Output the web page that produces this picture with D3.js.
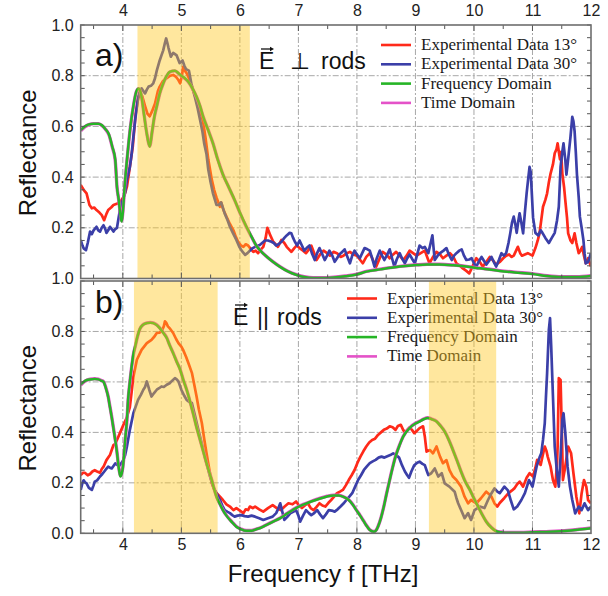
<!DOCTYPE html>
<html>
<head>
<meta charset="utf-8">
<script src="https://cdn.jsdelivr.net/npm/d3@7"></script>
<style>
  body { margin: 0; background: #fff; }
  text { font-family: Arial, "Liberation Sans", sans-serif; }
</style>
</head>
<body>
<svg id="chart" width="608" height="596"></svg>
<script>
// Frequency axis ticks (THz) and reflectance tick labels
const freqTicks = [4, 5, 6, 7, 8, 9, 10, 11, 12];
const reflTicksA = [0, 0.2, 0.4, 0.6, 0.8, 1.0];
const reflLabelsA = ['1.0', '0.2', '0.4', '0.6', '0.8', '1.0'];
const reflTicksB = [0, 0.2, 0.4, 0.6, 0.8];
const reflLabelsB = ['0.0', '0.2', '0.4', '0.6', '0.8'];

const legendLabels = ['Experimental Data 13°', 'Experimental Data 30°', 'Frequency Domain', 'Time Domain'];

// highlighted frequency bands [from, to]
const bandsA = [[4.25, 6.17]];
const bandsB = [[4.19, 5.62], [9.23, 10.38]];

// panel a) E perpendicular to rods : [frequency, reflectance]
const red13A = [[3.28,0.369],[3.33,0.35],[3.38,0.336],[3.43,0.29],[3.47,0.277],[3.51,0.28],[3.55,0.27],[3.6,0.26],[3.64,0.25],[3.68,0.23],[3.72,0.255],[3.75,0.27],[3.8,0.28],[3.84,0.29],[3.92,0.297],[3.98,0.31],[4.03,0.33],[4.07,0.362],[4.12,0.44],[4.17,0.52],[4.22,0.65],[4.26,0.71],[4.29,0.73],[4.33,0.72],[4.38,0.68],[4.42,0.65],[4.46,0.64],[4.5,0.66],[4.55,0.69],[4.6,0.74],[4.63,0.757],[4.69,0.78],[4.75,0.79],[4.81,0.8],[4.86,0.803],[4.91,0.795],[4.95,0.783],[4.98,0.77],[5.01,0.8],[5.03,0.835],[5.06,0.82],[5.09,0.81],[5.13,0.79],[5.18,0.757],[5.25,0.71],[5.32,0.665],[5.37,0.62],[5.41,0.56],[5.46,0.47],[5.52,0.39],[5.56,0.35],[5.6,0.32],[5.66,0.283],[5.68,0.3],[5.72,0.27],[5.77,0.244],[5.83,0.215],[5.89,0.19],[5.93,0.165],[5.97,0.145],[6.02,0.13],[6.06,0.125],[6.1,0.135],[6.14,0.13],[6.19,0.115],[6.23,0.105],[6.27,0.11],[6.31,0.1],[6.36,0.115],[6.4,0.125],[6.44,0.16],[6.47,0.2],[6.52,0.17],[6.57,0.145],[6.61,0.135],[6.65,0.125],[6.71,0.152],[6.76,0.14],[6.8,0.125],[6.84,0.115],[6.88,0.105],[6.93,0.12],[6.97,0.13],[7.02,0.12],[7.08,0.11],[7.13,0.1],[7.18,0.115],[7.22,0.13],[7.27,0.1],[7.31,0.073],[7.37,0.095],[7.43,0.11],[7.49,0.1],[7.54,0.09],[7.6,0.105],[7.66,0.1],[7.72,0.085],[7.77,0.09],[7.83,0.1],[7.88,0.105],[7.94,0.095],[8.0,0.09],[8.05,0.075],[8.1,0.06],[8.16,0.085],[8.22,0.1],[8.28,0.07],[8.33,0.047],[8.39,0.08],[8.44,0.105],[8.5,0.095],[8.56,0.08],[8.62,0.095],[8.67,0.105],[8.73,0.09],[8.79,0.073],[8.85,0.09],[8.9,0.11],[8.96,0.1],[9.02,0.09],[9.09,0.1],[9.16,0.11],[9.2,0.085],[9.24,0.06],[9.3,0.085],[9.36,0.105],[9.42,0.095],[9.47,0.08],[9.53,0.09],[9.59,0.1],[9.65,0.085],[9.7,0.06],[9.76,0.05],[9.81,0.04],[9.87,0.03],[9.92,0.02],[9.98,0.05],[10.04,0.08],[10.1,0.065],[10.15,0.047],[10.21,0.065],[10.27,0.085],[10.33,0.07],[10.38,0.055],[10.44,0.065],[10.5,0.08],[10.55,0.09],[10.6,0.095],[10.64,0.085],[10.68,0.09],[10.72,0.11],[10.75,0.125],[10.79,0.1],[10.82,0.09],[10.87,0.095],[10.92,0.1],[10.96,0.095],[11.0,0.09],[11.05,0.12],[11.09,0.15],[11.12,0.178],[11.15,0.23],[11.18,0.283],[11.22,0.31],[11.25,0.336],[11.28,0.38],[11.31,0.415],[11.35,0.45],[11.38,0.494],[11.41,0.51],[11.43,0.533],[11.45,0.5],[11.47,0.47],[11.49,0.5],[11.51,0.415],[11.54,0.36],[11.56,0.31],[11.59,0.24],[11.61,0.178],[11.65,0.15],[11.68,0.14],[11.72,0.178],[11.75,0.14],[11.79,0.1],[11.82,0.11],[11.85,0.125],[11.88,0.09],[11.91,0.06],[11.95,0.08],[12.0,0.047]];

const blue30A = [[3.28,0.152],[3.31,0.13],[3.33,0.119],[3.37,0.112],[3.4,0.14],[3.44,0.185],[3.47,0.175],[3.5,0.19],[3.55,0.204],[3.58,0.19],[3.61,0.185],[3.64,0.2],[3.67,0.21],[3.7,0.195],[3.72,0.18],[3.75,0.19],[3.78,0.204],[3.81,0.195],[3.84,0.185],[3.87,0.195],[3.9,0.2],[3.95,0.27],[4.0,0.31],[4.04,0.34],[4.07,0.39],[4.12,0.44],[4.15,0.49],[4.18,0.56],[4.21,0.625],[4.26,0.71],[4.29,0.74],[4.32,0.75],[4.35,0.74],[4.38,0.73],[4.41,0.745],[4.44,0.757],[4.48,0.76],[4.52,0.77],[4.55,0.79],[4.58,0.82],[4.63,0.86],[4.66,0.88],[4.69,0.9],[4.72,0.93],[4.74,0.947],[4.76,0.93],[4.78,0.91],[4.82,0.875],[4.86,0.89],[4.89,0.885],[4.92,0.88],[4.97,0.85],[5.02,0.86],[5.05,0.84],[5.08,0.826],[5.13,0.82],[5.17,0.77],[5.23,0.717],[5.28,0.67],[5.32,0.625],[5.36,0.58],[5.39,0.533],[5.43,0.49],[5.46,0.43],[5.5,0.38],[5.54,0.336],[5.6,0.29],[5.64,0.29],[5.68,0.3],[5.74,0.257],[5.79,0.23],[5.83,0.204],[5.88,0.18],[5.94,0.152],[5.99,0.125],[6.03,0.11],[6.09,0.093],[6.13,0.1],[6.17,0.11],[6.22,0.12],[6.26,0.125],[6.34,0.132],[6.38,0.14],[6.43,0.15],[6.48,0.15],[6.54,0.145],[6.58,0.14],[6.62,0.13],[6.66,0.135],[6.71,0.145],[6.76,0.16],[6.8,0.17],[6.85,0.18],[6.88,0.178],[6.91,0.16],[6.94,0.145],[6.98,0.13],[7.02,0.15],[7.06,0.13],[7.1,0.11],[7.14,0.12],[7.19,0.13],[7.23,0.1],[7.28,0.073],[7.32,0.1],[7.36,0.12],[7.41,0.095],[7.45,0.073],[7.49,0.09],[7.53,0.11],[7.58,0.09],[7.62,0.066],[7.66,0.08],[7.7,0.095],[7.75,0.105],[7.79,0.115],[7.83,0.09],[7.88,0.06],[7.92,0.09],[7.96,0.11],[8.0,0.095],[8.05,0.08],[8.09,0.1],[8.13,0.12],[8.18,0.115],[8.22,0.11],[8.26,0.08],[8.3,0.047],[8.34,0.08],[8.39,0.11],[8.43,0.09],[8.47,0.073],[8.52,0.095],[8.56,0.115],[8.6,0.08],[8.64,0.047],[8.68,0.075],[8.73,0.1],[8.77,0.08],[8.82,0.06],[8.86,0.08],[8.9,0.095],[8.95,0.075],[8.99,0.06],[9.03,0.095],[9.07,0.13],[9.12,0.12],[9.16,0.125],[9.22,0.1],[9.26,0.14],[9.29,0.17],[9.31,0.12],[9.33,0.073],[9.38,0.09],[9.42,0.1],[9.48,0.11],[9.53,0.12],[9.57,0.095],[9.62,0.073],[9.66,0.09],[9.7,0.1],[9.75,0.11],[9.79,0.115],[9.83,0.09],[9.87,0.073],[9.92,0.075],[9.96,0.08],[10.0,0.06],[10.04,0.047],[10.09,0.07],[10.13,0.085],[10.17,0.07],[10.21,0.055],[10.26,0.07],[10.3,0.085],[10.34,0.065],[10.38,0.047],[10.43,0.075],[10.47,0.1],[10.51,0.09],[10.55,0.1],[10.59,0.14],[10.62,0.178],[10.65,0.22],[10.68,0.244],[10.71,0.21],[10.73,0.18],[10.76,0.23],[10.78,0.257],[10.81,0.22],[10.84,0.178],[10.87,0.26],[10.9,0.336],[10.93,0.4],[10.95,0.44],[10.97,0.42],[10.99,0.33],[11.01,0.24],[11.05,0.18],[11.1,0.17],[11.14,0.19],[11.17,0.18],[11.22,0.16],[11.28,0.14],[11.33,0.16],[11.38,0.18],[11.42,0.23],[11.45,0.283],[11.48,0.44],[11.51,0.5],[11.53,0.533],[11.56,0.47],[11.58,0.41],[11.6,0.45],[11.62,0.494],[11.65,0.56],[11.68,0.638],[11.7,0.62],[11.72,0.58],[11.74,0.5],[11.76,0.41],[11.79,0.32],[11.81,0.244],[11.84,0.2],[11.87,0.152],[11.89,0.1],[11.91,0.06],[11.95,0.065],[12.0,0.1]];

const freqDomA = [[3.28,0.585],[3.35,0.6],[3.42,0.608],[3.5,0.61],[3.58,0.61],[3.64,0.605],[3.7,0.59],[3.76,0.57],[3.82,0.52],[3.87,0.47],[3.9,0.36],[3.93,0.31],[3.96,0.25],[3.98,0.225],[4.0,0.26],[4.03,0.36],[4.08,0.49],[4.13,0.6],[4.18,0.68],[4.23,0.737],[4.27,0.75],[4.31,0.73],[4.36,0.65],[4.41,0.57],[4.46,0.52],[4.5,0.58],[4.54,0.64],[4.58,0.68],[4.63,0.73],[4.69,0.77],[4.75,0.8],[4.8,0.815],[4.89,0.82],[4.95,0.81],[5.0,0.8],[5.06,0.79],[5.12,0.776],[5.19,0.75],[5.26,0.717],[5.32,0.68],[5.37,0.64],[5.45,0.59],[5.54,0.533],[5.62,0.47],[5.71,0.41],[5.81,0.36],[5.91,0.31],[6.01,0.255],[6.11,0.205],[6.2,0.165],[6.28,0.13],[6.37,0.105],[6.46,0.086],[6.57,0.065],[6.68,0.047],[6.82,0.028],[6.97,0.014],[7.1,0.006],[7.25,0.002],[7.4,0.002],[7.6,0.004],[7.8,0.009],[8.0,0.016],[8.16,0.027],[8.4,0.036],[8.73,0.047],[9.02,0.053],[9.2,0.055],[9.41,0.055],[9.65,0.052],[9.87,0.047],[10.1,0.04],[10.44,0.03],[10.7,0.024],[11.0,0.018],[11.25,0.01],[11.5,0.006],[11.75,0.006],[12.0,0.01]];

const timeDomA = [[3.28,0.583],[3.35,0.598],[3.42,0.607],[3.5,0.611],[3.58,0.611],[3.64,0.604],[3.7,0.59],[3.76,0.568],[3.82,0.518],[3.87,0.466],[3.9,0.362],[3.93,0.31],[3.96,0.252],[3.98,0.228],[4.0,0.262],[4.03,0.358],[4.08,0.488],[4.13,0.598],[4.18,0.679],[4.23,0.736],[4.27,0.749],[4.31,0.729],[4.36,0.652],[4.41,0.572],[4.46,0.522],[4.5,0.578],[4.54,0.638],[4.58,0.679],[4.63,0.729],[4.69,0.769],[4.75,0.799],[4.8,0.814],[4.89,0.819],[4.95,0.809],[5.0,0.799],[5.06,0.789],[5.12,0.775],[5.19,0.749],[5.26,0.716],[5.32,0.679],[5.37,0.641],[5.45,0.591],[5.54,0.534],[5.62,0.471],[5.71,0.411],[5.81,0.36],[5.91,0.309],[6.01,0.254],[6.11,0.204],[6.2,0.164],[6.28,0.13],[6.37,0.105],[6.46,0.086],[6.57,0.066],[6.68,0.048],[6.82,0.029],[6.97,0.015],[7.1,0.007],[7.25,0.003],[7.4,0.003],[7.6,0.005],[7.8,0.01],[8.0,0.017],[8.16,0.028],[8.4,0.037],[8.73,0.048],[9.02,0.054],[9.2,0.056],[9.41,0.056],[9.65,0.053],[9.87,0.048],[10.1,0.041],[10.44,0.031],[10.7,0.025],[11.0,0.019],[11.25,0.011],[11.5,0.007],[11.75,0.007],[12.0,0.011]];

// panel b) E parallel to rods
const red13B = [[3.28,0.231],[3.32,0.24],[3.35,0.24],[3.4,0.23],[3.44,0.235],[3.48,0.245],[3.52,0.25],[3.56,0.245],[3.61,0.24],[3.64,0.255],[3.67,0.264],[3.72,0.29],[3.78,0.31],[3.81,0.33],[3.84,0.35],[3.87,0.355],[3.9,0.37],[3.95,0.397],[4.01,0.43],[4.07,0.46],[4.12,0.5],[4.15,0.56],[4.18,0.62],[4.24,0.688],[4.32,0.727],[4.41,0.754],[4.49,0.767],[4.54,0.78],[4.58,0.794],[4.62,0.795],[4.66,0.8],[4.7,0.82],[4.72,0.84],[4.74,0.835],[4.77,0.82],[4.81,0.81],[4.86,0.794],[4.91,0.77],[4.95,0.754],[5.0,0.74],[5.03,0.727],[5.08,0.7],[5.12,0.675],[5.18,0.636],[5.22,0.59],[5.26,0.542],[5.3,0.49],[5.35,0.437],[5.39,0.375],[5.43,0.317],[5.48,0.25],[5.52,0.198],[5.56,0.175],[5.6,0.16],[5.66,0.145],[5.71,0.132],[5.77,0.115],[5.83,0.106],[5.89,0.092],[5.94,0.1],[6.0,0.09],[6.06,0.08],[6.1,0.095],[6.14,0.092],[6.17,0.106],[6.22,0.1],[6.26,0.106],[6.33,0.095],[6.4,0.086],[6.48,0.1],[6.56,0.112],[6.63,0.1],[6.7,0.092],[6.76,0.105],[6.83,0.119],[6.9,0.115],[6.96,0.126],[7.01,0.11],[7.06,0.1],[7.11,0.11],[7.16,0.119],[7.21,0.1],[7.26,0.092],[7.31,0.105],[7.36,0.119],[7.41,0.11],[7.46,0.106],[7.51,0.12],[7.56,0.132],[7.61,0.145],[7.66,0.159],[7.71,0.165],[7.76,0.172],[7.81,0.19],[7.86,0.211],[7.91,0.23],[7.96,0.251],[8.01,0.28],[8.06,0.304],[8.11,0.325],[8.16,0.344],[8.21,0.36],[8.26,0.37],[8.31,0.375],[8.36,0.39],[8.41,0.4],[8.46,0.41],[8.51,0.415],[8.56,0.424],[8.61,0.42],[8.66,0.41],[8.7,0.425],[8.75,0.43],[8.79,0.41],[8.82,0.4],[8.86,0.41],[8.9,0.42],[8.94,0.41],[8.98,0.397],[9.02,0.405],[9.07,0.417],[9.13,0.424],[9.16,0.384],[9.19,0.324],[9.25,0.33],[9.3,0.317],[9.36,0.344],[9.42,0.304],[9.47,0.278],[9.53,0.29],[9.58,0.251],[9.64,0.225],[9.7,0.211],[9.78,0.185],[9.84,0.145],[9.9,0.119],[9.95,0.132],[10.0,0.125],[10.04,0.119],[10.12,0.139],[10.21,0.165],[10.26,0.155],[10.3,0.145],[10.35,0.119],[10.4,0.106],[10.44,0.12],[10.52,0.14],[10.59,0.159],[10.65,0.17],[10.69,0.178],[10.74,0.195],[10.78,0.205],[10.84,0.185],[10.9,0.22],[10.95,0.238],[11.01,0.225],[11.05,0.26],[11.08,0.291],[11.14,0.271],[11.17,0.304],[11.21,0.344],[11.24,0.325],[11.26,0.304],[11.31,0.264],[11.35,0.211],[11.39,0.185],[11.42,0.28],[11.43,0.344],[11.45,0.615],[11.48,0.608],[11.5,0.423],[11.52,0.211],[11.56,0.264],[11.61,0.344],[11.66,0.317],[11.7,0.238],[11.75,0.145],[11.8,0.079],[11.84,0.159],[11.88,0.211],[11.92,0.185],[11.95,0.132],[12.0,0.119]];

const blue30B = [[3.28,0.172],[3.31,0.2],[3.33,0.21],[3.36,0.2],[3.38,0.198],[3.42,0.18],[3.47,0.172],[3.5,0.19],[3.52,0.205],[3.56,0.21],[3.61,0.225],[3.65,0.235],[3.7,0.25],[3.75,0.264],[3.78,0.26],[3.81,0.257],[3.87,0.277],[3.91,0.27],[3.95,0.27],[4.01,0.291],[4.04,0.31],[4.07,0.344],[4.12,0.41],[4.18,0.476],[4.26,0.529],[4.31,0.55],[4.35,0.569],[4.38,0.58],[4.41,0.602],[4.45,0.57],[4.49,0.542],[4.53,0.555],[4.58,0.569],[4.62,0.575],[4.66,0.582],[4.7,0.58],[4.75,0.589],[4.8,0.595],[4.83,0.602],[4.89,0.615],[4.92,0.61],[4.95,0.602],[5.0,0.569],[5.05,0.545],[5.09,0.529],[5.14,0.52],[5.18,0.516],[5.23,0.47],[5.28,0.42],[5.32,0.383],[5.36,0.345],[5.4,0.304],[5.45,0.26],[5.49,0.225],[5.53,0.195],[5.57,0.172],[5.62,0.15],[5.66,0.132],[5.7,0.11],[5.74,0.092],[5.79,0.085],[5.83,0.08],[5.87,0.072],[5.91,0.066],[5.96,0.07],[6.03,0.072],[6.08,0.068],[6.14,0.066],[6.2,0.07],[6.26,0.066],[6.33,0.06],[6.4,0.053],[6.48,0.06],[6.56,0.066],[6.62,0.08],[6.66,0.1],[6.69,0.119],[6.72,0.09],[6.76,0.053],[6.81,0.065],[6.86,0.079],[6.91,0.085],[6.96,0.092],[7.0,0.07],[7.03,0.046],[7.08,0.07],[7.13,0.092],[7.18,0.08],[7.22,0.072],[7.27,0.08],[7.32,0.092],[7.37,0.075],[7.42,0.06],[7.47,0.075],[7.52,0.092],[7.57,0.09],[7.62,0.086],[7.67,0.095],[7.72,0.106],[7.77,0.118],[7.82,0.132],[7.87,0.145],[7.92,0.159],[7.97,0.185],[8.02,0.211],[8.07,0.23],[8.12,0.251],[8.17,0.265],[8.22,0.278],[8.27,0.285],[8.32,0.291],[8.37,0.3],[8.42,0.304],[8.47,0.3],[8.51,0.304],[8.57,0.31],[8.62,0.317],[8.67,0.31],[8.72,0.3],[8.77,0.27],[8.82,0.245],[8.86,0.23],[8.89,0.22],[8.93,0.245],[8.98,0.27],[9.03,0.28],[9.07,0.284],[9.12,0.275],[9.16,0.27],[9.19,0.25],[9.22,0.231],[9.27,0.238],[9.33,0.257],[9.39,0.225],[9.45,0.238],[9.5,0.198],[9.58,0.185],[9.67,0.165],[9.7,0.14],[9.73,0.119],[9.78,0.092],[9.84,0.06],[9.9,0.08],[9.95,0.053],[10.01,0.092],[10.1,0.106],[10.18,0.1],[10.24,0.132],[10.3,0.159],[10.35,0.178],[10.4,0.165],[10.44,0.159],[10.52,0.185],[10.58,0.17],[10.63,0.13],[10.68,0.095],[10.74,0.106],[10.81,0.132],[10.87,0.159],[10.94,0.211],[11.0,0.185],[11.07,0.264],[11.12,0.3],[11.15,0.317],[11.18,0.37],[11.21,0.437],[11.23,0.54],[11.25,0.635],[11.28,0.807],[11.3,0.853],[11.32,0.74],[11.35,0.542],[11.38,0.344],[11.42,0.238],[11.45,0.185],[11.48,0.304],[11.51,0.45],[11.53,0.476],[11.56,0.4],[11.6,0.264],[11.64,0.185],[11.68,0.132],[11.73,0.079],[11.79,0.106],[11.84,0.092],[11.89,0.119],[11.95,0.092],[12.0,0.106]];

const freqDomB = [[3.28,0.59],[3.36,0.605],[3.44,0.61],[3.52,0.612],[3.58,0.61],[3.63,0.605],[3.67,0.6],[3.71,0.575],[3.75,0.54],[3.78,0.5],[3.81,0.46],[3.84,0.415],[3.87,0.37],[3.9,0.32],[3.92,0.278],[3.94,0.245],[3.96,0.225],[3.98,0.235],[4.0,0.26],[4.02,0.31],[4.04,0.37],[4.07,0.45],[4.09,0.53],[4.12,0.6],[4.15,0.66],[4.18,0.71],[4.21,0.74],[4.25,0.78],[4.29,0.81],[4.35,0.827],[4.41,0.833],[4.47,0.835],[4.52,0.833],[4.58,0.825],[4.63,0.813],[4.69,0.795],[4.75,0.774],[4.8,0.745],[4.86,0.714],[4.92,0.68],[4.98,0.648],[5.03,0.61],[5.09,0.569],[5.15,0.52],[5.2,0.476],[5.26,0.42],[5.32,0.37],[5.38,0.32],[5.43,0.278],[5.48,0.24],[5.52,0.21],[5.56,0.175],[5.6,0.145],[5.66,0.115],[5.71,0.092],[5.77,0.07],[5.83,0.053],[5.89,0.038],[5.94,0.026],[6.02,0.016],[6.11,0.01],[6.2,0.01],[6.28,0.016],[6.36,0.022],[6.43,0.03],[6.56,0.045],[6.69,0.06],[6.82,0.08],[6.96,0.1],[7.1,0.115],[7.22,0.126],[7.36,0.137],[7.49,0.146],[7.6,0.15],[7.69,0.15],[7.78,0.143],[7.86,0.132],[7.93,0.113],[7.99,0.092],[8.06,0.068],[8.12,0.046],[8.17,0.028],[8.22,0.013],[8.29,0.006],[8.33,0.012],[8.36,0.026],[8.41,0.06],[8.46,0.106],[8.51,0.16],[8.56,0.211],[8.61,0.26],[8.66,0.304],[8.73,0.35],[8.79,0.383],[8.9,0.417],[9.0,0.435],[9.07,0.443],[9.14,0.452],[9.21,0.457],[9.28,0.452],[9.36,0.443],[9.43,0.425],[9.5,0.403],[9.57,0.37],[9.64,0.33],[9.71,0.288],[9.78,0.244],[9.85,0.205],[9.93,0.172],[10.0,0.138],[10.07,0.106],[10.14,0.074],[10.21,0.046],[10.3,0.022],[10.38,0.008],[10.47,0.004],[10.55,0.002],[10.8,0.002],[11.0,0.004],[11.3,0.006],[11.6,0.01],[11.8,0.015],[12.0,0.02]];

const timeDomB = [[3.28,0.588],[3.36,0.604],[3.44,0.611],[3.52,0.613],[3.58,0.611],[3.63,0.606],[3.67,0.601],[3.71,0.577],[3.75,0.542],[3.78,0.502],[3.81,0.462],[3.84,0.417],[3.87,0.372],[3.9,0.322],[3.92,0.28],[3.94,0.247],[3.96,0.228],[3.98,0.238],[4.0,0.262],[4.02,0.308],[4.04,0.368],[4.07,0.448],[4.09,0.527],[4.12,0.598],[4.15,0.658],[4.18,0.708],[4.21,0.739],[4.25,0.779],[4.29,0.809],[4.35,0.828],[4.41,0.834],[4.47,0.836],[4.52,0.834],[4.58,0.826],[4.63,0.814],[4.69,0.796],[4.75,0.775],[4.8,0.746],[4.86,0.715],[4.92,0.681],[4.98,0.649],[5.03,0.611],[5.09,0.57],[5.15,0.521],[5.2,0.477],[5.26,0.421],[5.32,0.371],[5.38,0.321],[5.43,0.279],[5.48,0.241],[5.52,0.211],[5.56,0.176],[5.6,0.146],[5.66,0.116],[5.71,0.093],[5.77,0.071],[5.83,0.054],[5.89,0.039],[5.94,0.027],[6.02,0.017],[6.11,0.011],[6.2,0.011],[6.28,0.017],[6.36,0.023],[6.43,0.031],[6.56,0.046],[6.69,0.061],[6.82,0.081],[6.96,0.101],[7.1,0.116],[7.22,0.127],[7.36,0.138],[7.49,0.147],[7.6,0.151],[7.69,0.151],[7.78,0.144],[7.86,0.133],[7.93,0.114],[7.99,0.093],[8.06,0.069],[8.12,0.047],[8.17,0.029],[8.22,0.014],[8.29,0.007],[8.33,0.013],[8.36,0.027],[8.41,0.061],[8.46,0.107],[8.51,0.161],[8.56,0.212],[8.61,0.261],[8.66,0.305],[8.73,0.351],[8.79,0.384],[8.9,0.418],[9.0,0.436],[9.07,0.444],[9.14,0.453],[9.21,0.458],[9.28,0.453],[9.36,0.444],[9.43,0.426],[9.5,0.404],[9.57,0.371],[9.64,0.331],[9.71,0.289],[9.78,0.245],[9.85,0.206],[9.93,0.173],[10.0,0.139],[10.07,0.107],[10.14,0.075],[10.21,0.047],[10.3,0.023],[10.38,0.009],[10.47,0.005],[10.55,0.003],[10.8,0.003],[11.0,0.005],[11.3,0.007],[11.6,0.011],[11.8,0.016],[12.0,0.021]];

const svg = d3.select('#chart');

const x = d3.scaleLinear().domain([3.28, 12]).range([80.7, 591]);
const left = x.range()[0], right = x.range()[1];

const panels = [
    {
        id: 'a',
        y: d3.scaleLinear().domain([0, 1]).range([278.5, 25]),
        ticks: reflTicksA, labels: reflLabelsA,
        bands: bandsA,
        series: [red13A, blue30A, timeDomA, freqDomA],
        tag: 'a)', tagY: 66,
        field: { x: 259, y: 69, sym: '⊥', symX: 290, rodsX: 321 },
        legend: { x: 381, y: 45, textX: 421 }
    },
    {
        id: 'b',
        y: d3.scaleLinear().domain([0, 1]).range([533.3, 281]),
        ticks: reflTicksB, labels: reflLabelsB,
        bands: bandsB,
        series: [red13B, blue30B, timeDomB, freqDomB],
        tag: 'b)', tagY: 313,
        field: { x: 233, y: 325, sym: '||', symX: 257, rodsX: 277 },
        legend: { x: 347, y: 298.5, textX: 387 }
    }
];

// red, blue, time domain (under), frequency domain (on top)
const styles = [
    { color: '#ff2a1a', width: 2.7, curve: d3.curveLinear },
    { color: '#3b3fa8', width: 2.7, curve: d3.curveLinear },
    { color: '#e452c8', width: 3.4, curve: d3.curveMonotoneX },
    { color: '#26b526', width: 2.5, curve: d3.curveMonotoneX }
];
const legendOrder = [0, 1, 3, 2];

panels.forEach(p => {
    const y = p.y;
    const top = y.range()[1], bottom = y.range()[0];
    const g = svg.append('g');

    g.append('clipPath').attr('id', 'clip-' + p.id)
        .append('rect')
        .attr('x', left).attr('y', top)
        .attr('width', right - left).attr('height', bottom - top);

    // dash-dot grid
    const grid = g.append('g')
        .attr('stroke', '#a8a8a8')
        .attr('stroke-width', 1)
        .attr('stroke-dasharray', '6,2,2,2');
    grid.selectAll('.vx').data(freqTicks.filter(d => d < 12)).enter()
        .append('line')
        .attr('x1', d => x(d)).attr('x2', d => x(d))
        .attr('y1', top).attr('y2', bottom);
    grid.selectAll('.hy').data(p.ticks.filter(d => d > 0 && d < 1)).enter()
        .append('line')
        .attr('x1', left).attr('x2', right)
        .attr('y1', d => y(d)).attr('y2', d => y(d));

    // curves
    const plot = g.append('g').attr('clip-path', `url(#clip-${p.id})`);
    p.series.forEach((data, i) => {
        const st = styles[i];
        const line = d3.line()
            .x(d => x(d[0]))
            .y(d => y(d[1]))
            .curve(st.curve);
        plot.append('path')
            .datum(data)
            .attr('d', line)
            .attr('fill', 'none')
            .attr('stroke', st.color)
            .attr('stroke-width', st.width)
            .attr('stroke-linejoin', 'round');
    });

    // legend
    const lg = g.append('g');
    legendOrder.forEach((si, k) => {
        const ly = p.legend.y + k * 19.3;
        lg.append('line')
            .attr('x1', p.legend.x).attr('x2', p.legend.x + 30)
            .attr('y1', ly).attr('y2', ly)
            .attr('stroke', styles[si].color)
            .attr('stroke-width', 2.6);
        lg.append('text')
            .attr('x', p.legend.textX).attr('y', ly + 5)
            .style('font-family', '"Liberation Serif", "Times New Roman", serif')
            .style('font-size', '17px')
            .attr('fill', '#1a1a1a')
            .text(legendLabels[k]);
    });

    // panel tag and field orientation
    g.append('text')
        .attr('x', 95).attr('y', p.tagY)
        .style('font-size', '32px')
        .attr('fill', '#111')
        .text(p.tag);
    const f = p.field;
    g.append('text').attr('x', f.x).attr('y', f.y)
        .style('font-size', '23px').attr('fill', '#111').text('E');
    g.append('path')
        .attr('d', `M${f.x + 2},${f.y - 20} H${f.x + 13}`)
        .attr('stroke', '#111').attr('stroke-width', 1.3);
    g.append('path')
        .attr('d', `M${f.x + 15},${f.y - 20} l-4,-2.2 v4.4 z`)
        .attr('fill', '#111');
    g.append('text').attr('x', f.symX).attr('y', f.y)
        .style('font-size', '23px').attr('fill', '#111').text(f.sym);
    g.append('text').attr('x', f.rodsX).attr('y', f.y)
        .style('font-size', '23px').attr('fill', '#111').text('rods');

    // translucent yellow bands laid over the curves
    g.selectAll('.band').data(p.bands).enter()
        .append('rect')
        .attr('x', d => x(d[0]))
        .attr('width', d => x(d[1]) - x(d[0]))
        .attr('y', top).attr('height', bottom - top)
        .attr('fill', '#ffc81e')
        .attr('fill-opacity', 0.43);

    // inward ticks on all four sides
    const xMajor = freqTicks.filter(d => d < 12);
    const xMinor = d3.range(3.5, 12, 1);
    const yMinor = d3.range(0, 1.0001, 0.05);
    const tk = g.append('g').attr('stroke', '#555').attr('stroke-width', 1);
    [[bottom, -1], [top, 1]].forEach(([yy, dir]) => {
        tk.selectAll(null).data(xMajor.concat(xMinor)).enter()
            .append('line')
            .attr('x1', d => x(d)).attr('x2', d => x(d))
            .attr('y1', yy).attr('y2', d => yy + dir * (Number.isInteger(d) ? 6 : 4));
    });
    [[left, 1], [right, -1]].forEach(([xx, dir]) => {
        tk.selectAll(null).data(yMinor).enter()
            .append('line')
            .attr('x1', xx).attr('x2', xx + dir * 4)
            .attr('y1', d => y(d)).attr('y2', d => y(d));
    });

    // frame
    g.append('rect')
        .attr('x', left).attr('y', top)
        .attr('width', right - left).attr('height', bottom - top)
        .attr('fill', 'none')
        .attr('stroke', '#6e6e6e')
        .attr('stroke-width', 1.6);

    // y tick labels
    const yAxis = d3.axisLeft(y)
        .tickValues(p.ticks)
        .tickSize(0)
        .tickPadding(7)
        .tickFormat((d, i) => p.labels[i]);
    const ya = g.append('g').attr('transform', `translate(${left},0)`).call(yAxis);
    ya.select('.domain').remove();
    ya.selectAll('text')
        .style('font-family', 'Arial, "Liberation Sans", sans-serif')
        .style('font-size', '16px')
        .attr('fill', '#222');

    // y title
    g.append('text')
        .attr('transform', `translate(36,${(top + bottom) / 2 + 1}) rotate(-90)`)
        .attr('text-anchor', 'middle')
        .style('font-size', '24px')
        .attr('fill', '#111')
        .text('Reflectance');
});

// frequency labels: on top of panel a) and under panel b)
const xTop = d3.axisTop(x).tickValues(freqTicks).tickSize(0).tickPadding(0).tickFormat(d3.format('d'));
const xt = svg.append('g').attr('transform', 'translate(0,16)').call(xTop);
const xBot = d3.axisBottom(x).tickValues(freqTicks).tickSize(0).tickPadding(0).tickFormat(d3.format('d'));
const xb = svg.append('g').attr('transform', 'translate(0,539)').call(xBot);
[xt, xb].forEach(a => {
    a.select('.domain').remove();
    a.selectAll('text')
        .style('font-family', 'Arial, "Liberation Sans", sans-serif')
        .style('font-size', '16px')
        .attr('fill', '#222');
});
xt.selectAll('text').attr('dy', 0);

svg.append('text')
    .attr('x', 323).attr('y', 582)
    .attr('text-anchor', 'middle')
    .style('font-size', '24px')
    .attr('fill', '#111')
    .text('Frequency f [THz]');
</script>
</body>
</html>
